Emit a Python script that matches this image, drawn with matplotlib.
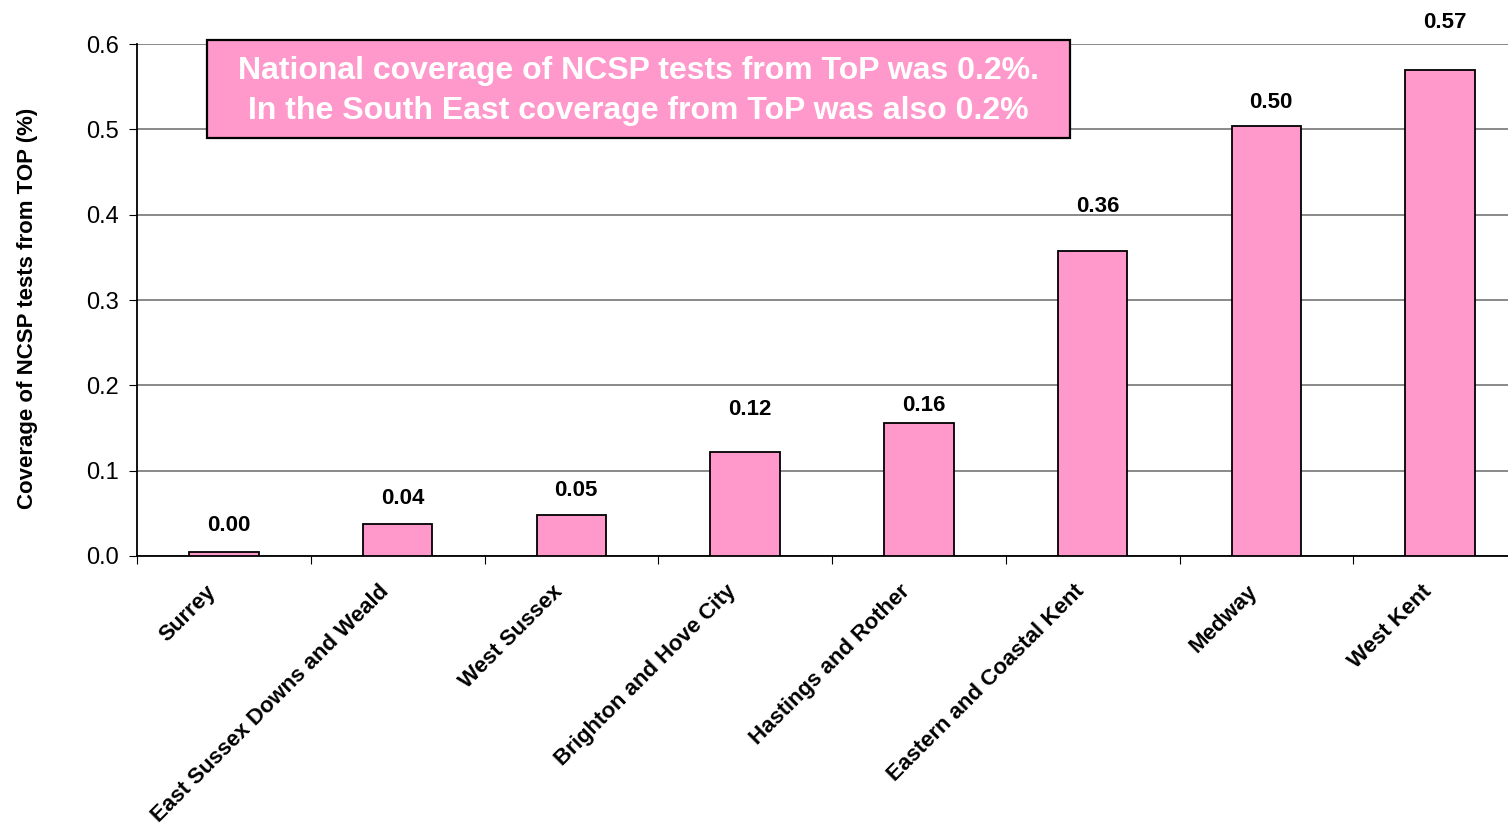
import numpy as np
import matplotlib.pyplot as plt
from matplotlib.patches import Rectangle

# Дані
areas = [
    "Surrey",
    "East Sussex Downs and Weald",
    "West Sussex",
    "Brighton and Hove City",
    "Hastings and Rother",
    "Eastern and Coastal Kent",
    "Medway",
    "West Kent",
]
coverage = [0.0047, 0.038, 0.048, 0.122, 0.156, 0.357, 0.504, 0.569]
value_labels = ["0.00", "0.04", "0.05", "0.12", "0.16", "0.36", "0.50", "0.57"]
y_ticks = [0.0, 0.1, 0.2, 0.3, 0.4, 0.5, 0.6]

# відступ підпису над стовпцем (пікселі), як в оригіналі
label_gap = [26, 25, 25, 42, 17, 45, 23, 48]

plt.rcParams["font.family"] = ["Liberation Sans", "DejaVu Sans"]

fig = plt.figure(figsize=(15.08, 8.23), dpi=100)
ax = fig.add_axes([137 / 1508, 1 - 556 / 823, 1390 / 1508, 512 / 823])

x = np.arange(len(areas))
ax.bar(x, coverage, width=0.4, color="#FF99CC", edgecolor="black", linewidth=1.3, zorder=3)

for xi, v, lab, gap in zip(x, coverage, value_labels, label_gap):
    ax.annotate(lab, (xi, v), xytext=(3.5, gap * 0.72), textcoords="offset points",
                ha="center", va="center", fontsize=16, fontweight="bold")

ax.set_xlim(-0.5, len(areas) - 0.5)
ax.set_ylim(0, 0.6)
ax.set_yticks(y_ticks)
ax.set_yticklabels([f"{t:.1f}" for t in y_ticks], fontsize=17)
ax.yaxis.grid(True, color="#808080", linewidth=1.3, zorder=0)

# мітки між категоріями; підписи трохи лівіше центру стовпця
ax.set_xticks(np.arange(len(areas) + 1) - 0.5)
ax.set_xticklabels([])
ax.set_xticks(x - 0.11, minor=True)
ax.set_xticklabels(areas, minor=True, rotation=45, ha="right", va="top",
                   rotation_mode="anchor", fontsize=16, fontweight="bold")
ax.tick_params(axis="x", which="minor", length=0, pad=18)
ax.tick_params(axis="x", which="major", length=6, direction="out")
ax.tick_params(axis="y", length=6, direction="out", pad=7)

for s in ["top", "right"]:
    ax.spines[s].set_visible(False)
ax.spines["left"].set_linewidth(1.3)
ax.spines["bottom"].set_linewidth(1.3)

ax.set_ylabel("Coverage of NCSP tests from TOP (%)", fontsize=16, fontweight="bold")
ax.yaxis.set_label_coords(-0.071, 0.484)

# Рамка з текстом
box = Rectangle((207 / 1508, 1 - 138 / 823), 863 / 1508, 98 / 823,
                transform=fig.transFigure, facecolor="#FF99CC", edgecolor="black",
                linewidth=1.6, zorder=5)
fig.patches.append(box)
fig.text(638 / 1508, 1 - 91 / 823,
         "National coverage of NCSP tests from ToP was 0.2%.\nIn the South East coverage from ToP was also 0.2%",
         ha="center", va="center", color="white", fontsize=23, fontweight="bold",
         linespacing=1.4, zorder=6)

fig.savefig("out.png", dpi=100)
